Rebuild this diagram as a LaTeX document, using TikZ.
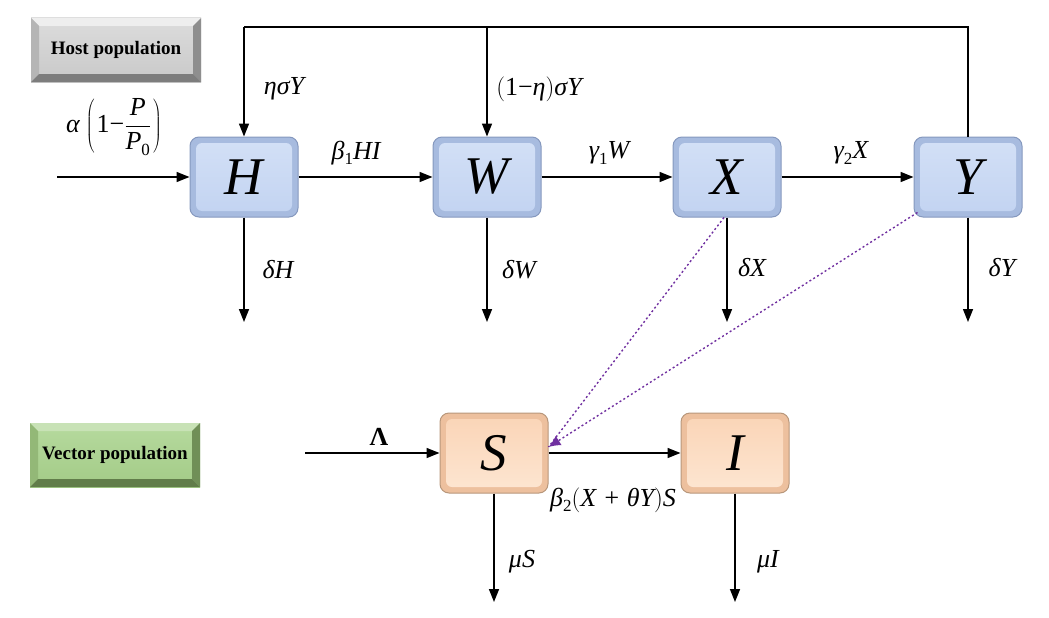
\documentclass[tikz,border=0pt]{standalone}
\usepackage{fontspec}
\setmainfont{Liberation Serif}
\usetikzlibrary{arrows.meta,calc}
\definecolor{bluein}{HTML}{C2D3F1}
\definecolor{bluetop}{HTML}{D3E0F6}
\definecolor{blueout}{HTML}{A7BBDF}
\definecolor{blueedge}{HTML}{8598BE}
\definecolor{orin}{HTML}{FAD4B6}
\definecolor{ortop}{HTML}{FDE6D2}
\definecolor{orout}{HTML}{EDC09E}
\definecolor{oredge}{HTML}{B8977B}
\definecolor{purp}{HTML}{7030A0}
\definecolor{gface1}{HTML}{DCDCDC}
\definecolor{gface2}{HTML}{C9C9C9}
\definecolor{gtop}{HTML}{EEEEEE}
\definecolor{gleft}{HTML}{B5B5B5}
\definecolor{gright}{HTML}{8E8E8E}
\definecolor{gbot}{HTML}{7D7D7D}
\definecolor{vface1}{HTML}{B6DA9E}
\definecolor{vface2}{HTML}{A3CB87}
\definecolor{vtop}{HTML}{C8E2B6}
\definecolor{vleft}{HTML}{93B877}
\definecolor{vright}{HTML}{708F57}
\definecolor{vbot}{HTML}{617D4A}
\tikzset{
  compbox/.style={rounded corners=9pt, minimum width=108pt, minimum height=80pt, line width=1pt,
     font=\fontsize{53}{58}\selectfont\itshape},
  bluebox/.style={compbox, draw=blueedge, fill=blueout,
     path picture={\fill[top color=bluetop, bottom color=bluein, rounded corners=6pt] ([shift={(6pt,-6pt)}]path picture bounding box.north west) rectangle ([shift={(-6pt,6pt)}]path picture bounding box.south east);}},
  orbox/.style={compbox, draw=oredge, fill=orout,
     path picture={\fill[top color=orin, bottom color=ortop, rounded corners=6pt] ([shift={(6pt,-6pt)}]path picture bounding box.north west) rectangle ([shift={(-6pt,6pt)}]path picture bounding box.south east);}},
  bevel/.style n args={5}{minimum width=170pt, minimum height=64pt, inner sep=0pt,
     font=\fontsize{19}{22}\selectfont\bfseries,
     path picture={
       \path (path picture bounding box.north west) coordinate (bnw)
             (path picture bounding box.north east) coordinate (bne)
             (path picture bounding box.south west) coordinate (bsw)
             (path picture bounding box.south east) coordinate (bse);
       \fill[#1] (bnw) rectangle (bse);
       \fill[#2] (bnw) -- (bne) -- ([shift={(-8pt,-8pt)}]bne) -- ([shift={(8pt,-8pt)}]bnw) -- cycle;
       \fill[#3] (bnw) -- (bsw) -- ([shift={(8pt,8pt)}]bsw) -- ([shift={(8pt,-8pt)}]bnw) -- cycle;
       \fill[#4] (bne) -- (bse) -- ([shift={(-8pt,8pt)}]bse) -- ([shift={(-8pt,-8pt)}]bne) -- cycle;
       \fill[#5] (bsw) -- (bse) -- ([shift={(-8pt,8pt)}]bse) -- ([shift={(8pt,8pt)}]bsw) -- cycle;
     }},
  graybox/.style={bevel={top color=gface1, bottom color=gface2}{gtop}{gleft}{gright}{gbot}},
  greenbox/.style={bevel={top color=vface1, bottom color=vface2}{vtop}{vleft}{vright}{vbot}},
  arr/.style={line width=1.5pt, -{Triangle[length=13pt,width=10pt]}},
  ln/.style={line width=1.5pt},
  dotline/.style={purp, line width=1.4pt, dash pattern=on 2pt off 2.5pt},
  lab/.style={font=\fontsize{26}{30}\selectfont, inner sep=0pt}
}
\newcommand{\sbs}[1]{\raisebox{-0.45ex}{\fontsize{17}{20}\selectfont\upshape #1}}
\begin{document}
\begin{tikzpicture}[x=1pt,y=-1pt]
\useasboundingbox (0,0) rectangle (1049,618);
% population labels
\node[graybox] (hp) at (116,50) {Host population};
\node[greenbox] (vp) at (115,455) {Vector population};
% compartments
\node[bluebox] (H) at (244,177) {H};
\node[bluebox] (W) at (487,177) {W};
\node[bluebox] (X) at (727,177) {X};
\node[bluebox] (Y) at (968,177) {Y};
\node[orbox] (S) at (494,453) {S};
\node[orbox] (I) at (735,453) {I};
% coordinates
\coordinate (top) at (0,27);
\coordinate (hin) at (57,177);
\coordinate (sin) at (305,453);
\coordinate (hout) at (244,322);
\coordinate (wout) at (487,322);
\coordinate (xout) at (727,322);
\coordinate (yout) at (968,322);
\coordinate (sout) at (494,602);
\coordinate (iout) at (735,602);
\coordinate (sdot) at ([yshift=6pt]S.east);
% host arrows
\draw[arr] (hin) -- (H);
\draw[arr] (H) -- (W);
\draw[arr] (W) -- (X);
\draw[arr] (X) -- (Y);
\draw[ln] (Y.north) -- (Y.north |- top) -- (H.north |- top);
\draw[arr] (H.north |- top) -- (H.north);
\draw[arr] (W.north |- top) -- (W.north);
\draw[arr] (H.south) -- (hout);
\draw[arr] (W.south) -- (wout);
\draw[arr] (X.south) -- (xout);
\draw[arr] (Y.south) -- (yout);
% vector arrows
\draw[arr] (sin) -- (S);
\draw[arr] (S) -- (I);
\draw[arr] (S.south) -- (sout);
\draw[arr] (I.south) -- (iout);
% dotted infection links
\draw[dotline] ([xshift=-3pt]X.south) -- (sdot);
\draw[dotline, -{Latex[length=12pt,width=11pt]}] ([shift={(4pt,5pt)}]Y.south west) -- (sdot);
% labels
\node[lab] at (114,127) {$\hbox{\itshape α}\kern2pt\left(\kern2pt\hbox{1−}\displaystyle\frac{\hbox{\itshape P}}{\hbox{\itshape P\sbs{0}}}\kern2pt\right)$};
\node[lab] at (284,89) {\itshape ησY};
\node[lab] at (539,89) {$\left(\hbox{1−\itshape η}\right)$\itshape σY};
\node[lab] at (356,153) {\itshape β\sbs{1}HI};
\node[lab] at (609,153) {\itshape γ\sbs{1}W};
\node[lab] at (851,153) {\itshape γ\sbs{2}X};
\node[lab] at (278,270) {\itshape δH};
\node[lab] at (519,270) {\itshape δW};
\node[lab] at (752,268) {\itshape δX};
\node[lab] at (1002,268) {\itshape δY};
\node[lab] at (379,437) {\bfseries Λ};
\node[lab] at (613,500) {\itshape β\sbs{2}$\left(\hbox{\itshape X + θY}\right)$S};
\node[lab] at (522,562) {\itshape μS};
\node[lab] at (768,562) {\itshape μI};
\end{tikzpicture}
\end{document}
